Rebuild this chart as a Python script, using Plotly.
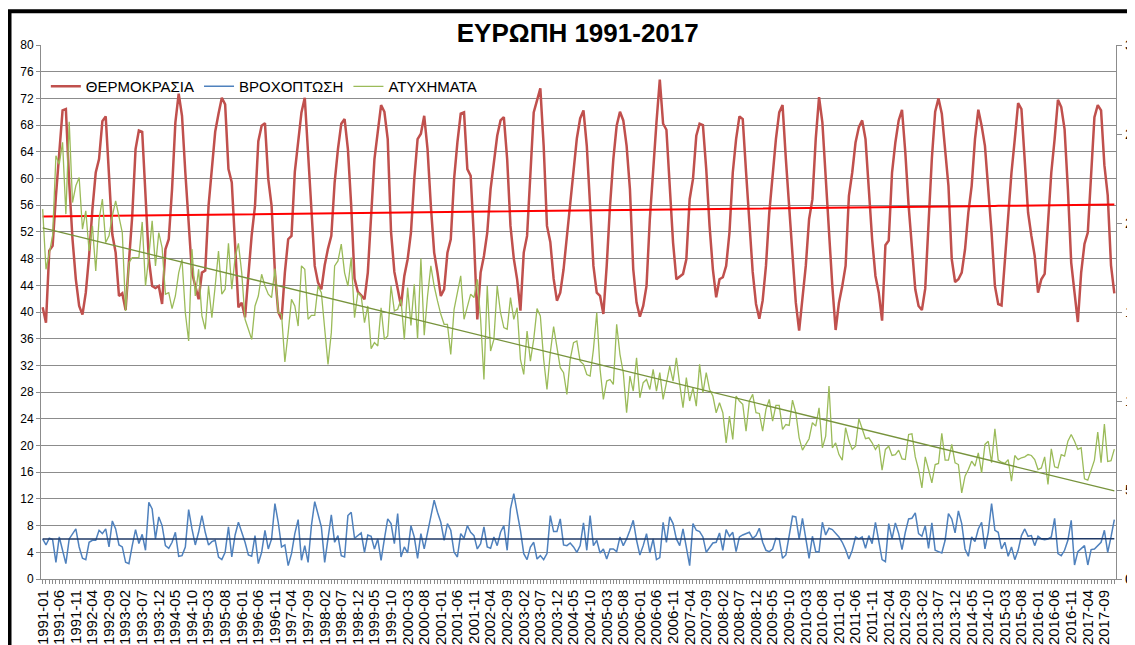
import numpy as np
import plotly.graph_objects as go

years = list(range(1991, 2018))
months = [f"{y}-{m:02d}" for y in years for m in range(1, 13)]

# ΘΕΡΜΟΚΡΑΣΙΑ (left axis), one row per year
temperature = [
    40.7, 38.4, 49.2, 49.9, 57.4, 64.4, 70.2, 70.4, 59.4, 50.9, 44.9, 40.9,
    39.6, 42.9, 48.4, 55.4, 60.9, 62.9, 68.6, 69.3, 60.9, 51.6, 48.9, 42.4,
    42.8, 40.3, 47.5, 54.4, 64.4, 67.2, 67.0, 56.9, 47.9, 43.9, 43.6, 43.9,
    41.2, 49.4, 50.9, 58.4, 68.4, 72.7, 69.4, 60.9, 52.9, 45.9, 43.9, 41.9,
    45.9, 46.2, 55.9, 62.0, 67.0, 69.7, 72.1, 71.1, 61.4, 59.4, 48.9, 40.7,
    41.4, 39.2, 45.5, 51.5, 55.9, 65.6, 67.9, 68.3, 59.9, 55.9, 46.0, 40.0,
    38.9, 45.9, 50.9, 51.4, 61.0, 65.9, 69.9, 72.1, 63.0, 55.4, 46.9, 44.4,
    43.4, 47.0, 49.5, 51.4, 59.4, 64.4, 68.2, 68.9, 64.4, 55.9, 45.0, 43.0,
    42.5, 41.9, 45.9, 55.4, 62.9, 67.0, 71.0, 70.0, 65.9, 52.0, 46.0, 43.5,
    40.9, 45.4, 47.9, 51.9, 59.9, 65.9, 66.7, 69.4, 64.4, 55.9, 48.9, 45.9,
    42.4, 43.4, 48.9, 50.9, 59.9, 65.4, 69.7, 69.9, 61.4, 60.4, 50.9, 38.9,
    45.9, 48.4, 51.9, 58.4, 62.5, 66.4, 68.7, 69.2, 62.9, 52.9, 48.0, 44.9,
    40.2, 48.9, 51.4, 60.9, 69.9, 71.7, 73.5, 64.9, 52.9, 50.5, 45.0, 41.7,
    42.9, 46.4, 51.4, 56.0, 62.0, 66.0, 69.0, 70.2, 64.9, 55.9, 46.9, 42.9,
    42.4, 39.7, 46.9, 55.9, 62.9, 67.9, 70.0, 68.7, 64.9, 58.4, 46.4, 41.4,
    39.3, 40.9, 43.9, 53.9, 61.9, 68.4, 74.8, 68.2, 67.3, 58.4, 50.4, 44.9,
    45.3, 45.7, 47.9, 56.9, 59.9, 66.4, 68.2, 68.0, 61.4, 52.9, 46.4, 42.2,
    44.9, 45.2, 46.9, 51.9, 60.9, 65.9, 69.3, 68.9, 61.0, 53.0, 46.0, 41.2,
    39.0, 41.7, 46.9, 54.9, 60.9, 65.9, 69.9, 71.0, 62.9, 55.9, 49.9, 41.4,
    37.2, 41.9, 46.9, 53.9, 56.9, 65.9, 72.2, 68.4, 59.9, 50.9, 43.9, 37.3,
    41.4, 43.9, 46.9, 57.4, 60.9, 65.4, 67.7, 68.7, 65.9, 58.4, 50.9, 45.4,
    42.9, 38.7, 50.0, 50.7, 60.9, 65.4, 68.7, 70.3, 63.9, 55.9, 49.9, 43.4,
    40.9, 40.3, 43.5, 53.0, 63.0, 70.0, 72.0, 69.7, 64.4, 58.9, 47.9, 44.5,
    44.9, 45.9, 49.4, 54.9, 58.9, 65.9, 70.3, 67.9, 64.9, 58.9, 51.9, 43.9,
    41.2, 41.0, 47.9, 54.9, 60.9, 65.9, 71.3, 70.4, 62.9, 54.9, 51.4, 48.4,
    42.9, 44.9, 45.7, 53.9, 60.9, 65.9, 71.8, 70.7, 67.4, 58.4, 47.4, 42.9,
    38.5, 45.9, 50.2, 51.9, 60.9, 69.2, 71.0, 70.2, 62.0, 57.5, 47.0, 42.8,
]

# ΒΡΟΧΟΠΤΩΣΗ (left axis)
rainfall = [
    6.0, 5.1, 6.1, 5.9, 2.5, 6.3, 4.3, 2.3, 6.0, 6.8, 7.5, 4.8,
    3.1, 2.9, 5.5, 5.8, 5.8, 7.3, 6.8, 7.5, 4.8, 8.7, 7.5, 5.1,
    4.8, 2.5, 2.3, 5.0, 7.4, 5.3, 6.7, 4.3, 11.5, 10.5, 6.0, 9.3,
    8.0, 5.0, 4.6, 5.5, 7.0, 3.4, 3.5, 4.8, 10.4, 7.5, 5.1, 7.0,
    9.5, 7.0, 5.1, 5.6, 5.8, 3.3, 2.9, 4.0, 7.8, 3.3, 6.6, 8.5,
    7.0, 5.5, 3.6, 3.4, 6.5, 2.3, 4.0, 7.3, 4.5, 6.0, 11.3, 8.5,
    4.8, 5.1, 2.0, 3.8, 6.8, 8.9, 2.8, 5.0, 2.5, 8.0, 11.6, 9.8,
    7.8, 2.5, 6.0, 9.6, 5.5, 6.5, 3.5, 3.3, 9.5, 10.0, 6.1, 6.5,
    6.9, 4.0, 6.6, 6.4, 4.5, 6.0, 2.8, 6.0, 9.0, 8.3, 5.3, 9.8,
    3.3, 4.8, 3.9, 8.0, 6.3, 3.1, 6.8, 4.5, 6.8, 9.5, 11.8, 10.0,
    8.5, 5.8, 8.3, 7.3, 4.0, 3.3, 6.8, 6.1, 8.0, 7.0, 6.5, 4.5,
    5.3, 7.8, 4.8, 4.6, 6.3, 5.0, 7.0, 8.0, 4.3, 10.5, 12.8, 10.0,
    7.3, 3.8, 2.9, 4.8, 5.5, 3.0, 3.5, 2.9, 3.8, 9.5, 7.1, 7.1,
    9.0, 5.1, 5.0, 5.4, 4.8, 4.0, 5.0, 8.4, 4.3, 9.5, 5.0, 5.8,
    3.9, 4.5, 3.0, 4.5, 4.5, 4.1, 6.3, 5.0, 6.0, 7.3, 8.8, 5.8,
    3.6, 5.0, 6.8, 3.9, 6.0, 2.9, 3.2, 8.5, 5.5, 9.3, 8.3, 6.0,
    5.0, 7.5, 5.0, 2.0, 8.3, 7.3, 7.1, 6.3, 4.0, 4.8, 5.4, 5.5,
    6.9, 4.3, 7.4, 6.4, 7.0, 4.1, 6.3, 6.6, 6.8, 7.0, 6.1, 6.5,
    7.6, 5.5, 4.3, 4.1, 4.5, 6.1, 6.0, 3.1, 3.6, 6.8, 9.4, 9.3,
    6.0, 9.1, 6.3, 3.1, 6.4, 4.1, 4.1, 8.5, 6.6, 7.6, 7.4, 6.8,
    6.3, 5.5, 4.4, 3.0, 4.3, 6.3, 6.0, 6.3, 4.6, 6.5, 5.3, 8.5,
    5.5, 2.9, 2.6, 8.3, 6.0, 8.4, 6.8, 4.4, 7.0, 9.0, 9.1, 9.9,
    6.8, 6.4, 8.0, 4.6, 8.4, 4.3, 4.1, 3.9, 5.8, 9.8, 9.0, 6.9,
    10.2, 8.3, 4.5, 3.4, 6.3, 5.6, 7.5, 8.5, 4.5, 7.0, 11.3, 7.3,
    7.0, 4.5, 5.5, 3.4, 4.8, 2.9, 4.3, 6.5, 7.5, 6.4, 6.5, 5.0,
    6.4, 6.0, 5.9, 6.0, 6.3, 9.1, 3.8, 3.5, 4.3, 5.8, 8.8, 2.1,
    4.1, 4.5, 5.0, 2.1, 4.4, 4.5, 5.0, 5.5, 7.3, 4.0, 6.3, 8.9,
]

# ΑΤΥΧΗΜΑΤΑ (right axis)
accidents = [
    207.8, 174.0, 183.0, 193.0, 237.8, 233.0, 245.3, 205.0, 256.9, 211.5, 220.9, 225.6,
    196.5, 206.8, 184.3, 198.4, 173.0, 202.0, 213.4, 189.0, 192.8, 204.0, 212.4, 204.0,
    194.6, 150.6, 177.8, 180.6, 180.6, 180.6, 200.6, 164.6, 181.5, 201.2, 175.9, 194.6,
    186.2, 160.0, 160.9, 151.9, 159.0, 172.0, 179.6, 149.6, 133.7, 185.3, 159.0, 174.0,
    147.8, 140.3, 164.6, 146.8, 164.6, 184.3, 160.0, 162.8, 188.6, 162.8, 180.6, 188.6,
    172.0, 145.9, 140.3, 134.6, 153.4, 159.0, 171.2, 164.6, 160.0, 158.1, 174.4, 149.6,
    148.7, 121.9, 138.4, 157.1, 153.4, 142.1, 175.9, 174.0, 145.9, 148.1, 148.1, 164.6,
    160.9, 138.4, 120.6, 138.4, 175.9, 178.7, 188.1, 172.0, 164.6, 180.6, 146.8, 160.9,
    159.0, 144.0, 153.4, 129.4, 132.8, 130.9, 152.4, 134.6, 136.5, 164.6, 150.6, 151.5,
    157.1, 134.6, 163.7, 142.5, 165.6, 135.0, 180.0, 136.9, 159.0, 175.9, 164.6, 156.2,
    148.7, 143.1, 143.1, 126.2, 151.5, 160.9, 170.3, 145.9, 153.4, 160.0, 158.1, 168.4,
    145.9, 112.1, 164.6, 128.1, 134.6, 164.6, 149.6, 141.2, 140.3, 158.1, 145.9, 152.4,
    123.4, 114.9, 139.3, 122.4, 134.6, 151.9, 147.8, 123.4, 106.5, 127.1, 141.8, 129.0,
    118.7, 115.9, 103.7, 123.4, 132.8, 133.7, 122.4, 120.6, 114.9, 114.0, 129.0, 149.6,
    117.8, 100.9, 111.2, 112.1, 109.3, 143.1, 126.2, 115.9, 93.4, 114.0, 105.6, 124.3,
    101.8, 110.3, 112.1, 106.5, 117.8, 105.6, 115.9, 100.9, 110.3, 119.6, 111.2, 124.3,
    109.3, 96.2, 113.1, 100.0, 107.4, 97.1, 120.6, 104.6, 115.9, 106.5, 102.8, 93.4,
    99.0, 93.4, 76.5, 91.5, 78.4, 102.8, 100.0, 98.1, 83.1, 100.0, 103.7, 93.4,
    93.0, 83.1, 95.3, 100.9, 88.7, 97.5, 97.5, 84.0, 86.8, 86.3, 100.5, 93.4,
    79.3, 72.4, 75.6, 78.8, 87.8, 85.9, 96.2, 73.7, 80.3, 108.4, 73.7, 76.5,
    69.9, 66.8, 85.0, 77.5, 72.8, 74.6, 90.0, 84.0, 78.8, 79.3, 76.5, 72.8,
    75.6, 61.1, 72.8, 74.6, 69.4, 69.9, 72.4, 67.5, 67.1, 81.2, 81.6, 68.6,
    61.5, 51.2, 68.6, 61.5, 54.0, 64.3, 64.9, 81.8, 66.8, 66.8, 75.6, 65.3,
    64.3, 48.4, 57.8, 61.5, 66.2, 63.4, 70.9, 59.6, 75.6, 77.4, 65.3, 84.4,
    66.8, 65.6, 64.9, 67.1, 55.0, 69.4, 67.1, 68.1, 68.6, 69.9, 69.4, 67.1,
    61.5, 62.4, 68.6, 53.1, 73.1, 63.0, 62.4, 69.9, 69.0, 77.4, 81.2, 77.4,
    72.8, 73.7, 56.3, 55.5, 61.5, 66.8, 82.5, 65.3, 87.0, 66.0, 66.5, 73.0,
]

idx = np.arange(len(months))


def linear_trend(values):
    slope, intercept = np.polyfit(idx, values, 1)
    return slope * idx + intercept


FONT = "Arial, Liberation Sans, sans-serif"
GRID = "#8C8C8C"

fig = go.Figure()
fig.add_trace(go.Scatter(name="ΘΕΡΜΟΚΡΑΣΙΑ", x=months, y=temperature, mode="lines",
                         line={"color": "#C0504D", "width": 2.5}))
fig.add_trace(go.Scatter(name="ΒΡΟΧΟΠΤΩΣΗ", x=months, y=rainfall, mode="lines",
                         line={"color": "#4F81BD", "width": 1.5}))
fig.add_trace(go.Scatter(x=months, y=linear_trend(temperature), mode="lines",
                         line={"color": "#FF0000", "width": 2}, showlegend=False))
fig.add_trace(go.Scatter(x=months, y=linear_trend(rainfall), mode="lines",
                         line={"color": "#1F3864", "width": 1.5}, showlegend=False))
fig.add_trace(go.Scatter(name="ΑΤΥΧΗΜΑΤΑ", x=months, y=accidents, mode="lines", yaxis="y2",
                         line={"color": "#9BBB59", "width": 1.3}))
fig.add_trace(go.Scatter(x=months, y=linear_trend(accidents), mode="lines", yaxis="y2",
                         line={"color": "#77933C", "width": 1.3}, showlegend=False))

# the page puts the figure 8px in from the top-left corner
fig.update_layout(
    width=1135, height=645,
    margin={"l": 33, "r": 27, "t": 37, "b": 74, "autoexpand": False},
    paper_bgcolor="white", plot_bgcolor="white",
    font={"family": FONT, "color": "black"},
    title={"text": "<b>ΕΥΡΩΠΗ 1991-2017</b>", "x": 0.502, "xanchor": "center",
           "y": 0.962, "yanchor": "middle", "font": {"size": 26, "color": "black"}},
    showlegend=True,
    legend={"orientation": "h", "x": 0.0045, "y": 0.953, "xanchor": "left", "yanchor": "top",
            "bgcolor": "rgba(0,0,0,0)", "font": {"size": 15}, "traceorder": "normal"},
    xaxis={"type": "category", "range": [-0.5, len(months) - 0.5], "automargin": False,
           "tickmode": "array", "tickvals": months,
           "ticktext": [m if i % 5 == 0 else "" for i, m in enumerate(months)],
           "tickangle": -90, "tickfont": {"size": 15},
           "ticks": "outside", "ticklen": 4, "tickcolor": GRID,
           "showline": True, "linecolor": GRID, "showgrid": False, "zeroline": False},
    yaxis={"range": [0, 80], "dtick": 4, "tick0": 0, "tickfont": {"size": 12},
           "automargin": False,
           "ticks": "outside", "ticklen": 4, "tickcolor": GRID,
           "showline": True, "linecolor": GRID, "gridcolor": GRID, "zeroline": False},
    yaxis2={"range": [0, 300], "dtick": 50, "tick0": 0, "overlaying": "y", "side": "right",
            "automargin": False,
            "tickfont": {"size": 15}, "ticks": "outside", "ticklen": 5, "tickcolor": GRID,
            "showline": True, "linecolor": GRID, "showgrid": False, "zeroline": False},
    shapes=[{"type": "rect", "xref": "paper", "yref": "paper",
             "x0": -0.0293, "x1": 1.2, "y0": -0.5, "y1": 1.0631,
             "line": {"color": "black", "width": 4}, "fillcolor": "rgba(0,0,0,0)"}],
)

fig.write_html("out.html")
